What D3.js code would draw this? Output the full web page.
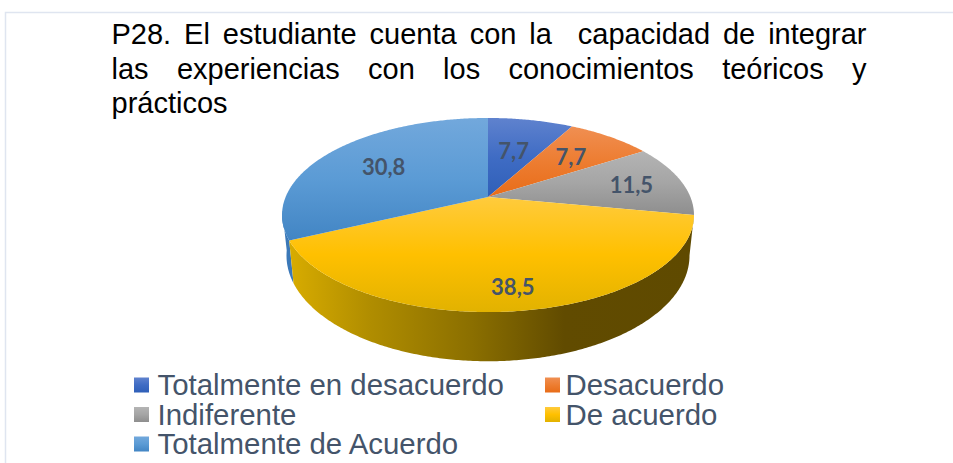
<!DOCTYPE html>
<html><head><meta charset="utf-8">
<script src="https://cdnjs.cloudflare.com/ajax/libs/d3/7.8.5/d3.min.js"></script>
<style>html,body{margin:0;padding:0;background:#fff;overflow:hidden}svg{display:block}text{font-family:"Liberation Sans",Arial,sans-serif}</style>
</head><body><svg id="c" width="953" height="463"></svg>
<script>
const categories = ["Totalmente en desacuerdo","Desacuerdo","Indiferente","De acuerdo","Totalmente de Acuerdo"];
const seriesValues = [7.7,7.7,11.5,38.5,30.8];
const valueLabels = ["7,7","7,7","11,5","38,5","30,8"];
const titleLines = ["P28. El estudiante cuenta con la  capacidad de integrar","las experiencias con los conocimientos teóricos y","prácticos"];
const topColors = [["#5f82ce","#3f6cc4","#2f5fb8"],["#f08f52","#ed7d31","#e86c18"],["#b4b4b4","#a5a5a5","#8e8e8e"],["#ffcb3d","#ffc000","#e2b200"],["#72a8dc","#5b9bd5","#4285c4"]];
const sideColors = ["#2f5597","#c55a11","#7b7b7b","#8a6c00","#3b78b8"];

const svg = d3.select("#c");
const defs = svg.append("defs");
svg.append("path").attr("d","M953,12.5H5.5V463").attr("fill","none").attr("stroke","#dfe5f0").attr("stroke-width",1.5);

const pie = d3.pie().sort(null).startAngle(0).endAngle(2*Math.PI);
const arcs = pie(seriesValues);
const k = 0.1856;
const top3d = {cx:488, cy:197, R:202.4, S:93.7};
const bot3d = {cx:488, cy:236, R:198, S:102};
const project = (f,a,r=1)=>{const u=r*Math.sin(a),v=-r*Math.cos(a),w=1-k*v;return [f.cx+f.R*u/w,f.cy+f.S*v/w];};
const line = d3.line();
const sweep = (f,a0,a1)=>{const n=Math.max(2,Math.ceil((a1-a0)/0.01));return d3.range(n+1).map(i=>project(f,a0+(a1-a0)*i/n));};

// side walls
const g = svg.append("g");
const sideGrad = defs.append("linearGradient").attr("id","sideYellow");
[[0,"#d8ac00"],[.2,"#b08d00"],[.45,"#8b6f00"],[.68,"#614b00"],[1,"#5f4a00"]].forEach(s=>sideGrad.append("stop").attr("offset",s[0]).attr("stop-color",s[1]));
const silhouette = 262*Math.PI/180;
// the blue wall only shows up to the left silhouette of the pie
g.append("path").attr("fill",sideColors[4]).attr("d",()=>{const a=arcs[4].startAngle;return line([...sweep(top3d,a,silhouette),...sweep(bot3d,a,silhouette).reverse()])+"Z";});
g.append("path").attr("fill","url(#sideYellow)").attr("d",()=>{const a=arcs[3];return line([...sweep(top3d,a.startAngle,a.endAngle),...sweep(bot3d,a.startAngle,a.endAngle).reverse()])+"Z";});

// top surface
arcs.forEach((a,i)=>{
  const grad = defs.append("linearGradient").attr("id","top"+i).attr("x1",0).attr("y1",0).attr("x2",0).attr("y2",1);
  topColors[i].forEach((c,j)=>grad.append("stop").attr("offset",j/2).attr("stop-color",c));
  g.append("path").attr("fill",`url(#top${i})`).attr("d",line([[top3d.cx,top3d.cy],...sweep(top3d,a.startAngle,a.endAngle)])+"Z");
});

// value labels
const labelRadius = [0.56,0.65,0.74,0.82,0.65];
svg.append("g").selectAll("text").data(arcs).join("text")
  .attr("text-anchor","middle").attr("dominant-baseline","central")
  .style("font-family","Lato,sans-serif").style("font-weight","700").style("font-size","22px").attr("fill","#44546a")
  .attr("transform",(a,i)=>`translate(${project(top3d,(a.startAngle+a.endAngle)/2,labelRadius[i])})`)
  .text((a,i)=>valueLabels[i]);

// title, justified
const tX=111.5,tW=755,tBase=[44,79,113];
titleLines.forEach((t,i)=>{
  const el=svg.append("text").attr("x",tX).attr("y",tBase[i]).attr("fill","#000").style("font-size","29px").style("white-space","pre").text(t);
  if(i<2){const len=el.node().getComputedTextLength(),gaps=t.split(" ").length-1;el.style("word-spacing",((tW-len)/gaps)+"px");}
});

// legend
const legendCols=[134,545], legendRows=[385,414.5,444];
const lg=svg.append("g");
categories.forEach((c,i)=>{
  const col=i%2,row=Math.floor(i/2),x=legendCols[col],y=legendRows[row];
  lg.append("rect").attr("x",x).attr("y",y-7.5).attr("width",15).attr("height",15).attr("fill",`url(#top${i})`);
  lg.append("text").attr("x",x+23.5-(col?3:0)).attr("y",y+10).attr("fill","#44546a").style("font-size","29.4px").text(c);
});
</script></body></html>
